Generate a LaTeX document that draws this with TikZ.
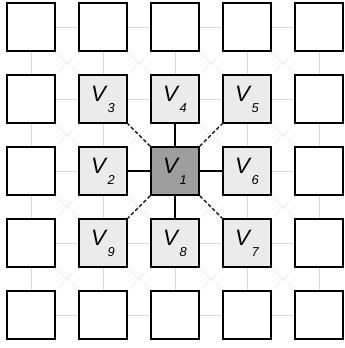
\documentclass[tikz,border=0pt]{standalone}
\usepackage{fontspec}
\setsansfont{Liberation Sans}
\usepackage{tikz}
\usetikzlibrary{positioning, backgrounds}
\tikzset{
  cell/.style  = {draw, line width=1.5pt, minimum size=1.44cm, inner sep=0pt,
                  fill=white, font=\sffamily\itshape\fontsize{19}{19}\selectfont},
  near/.style  = {cell, fill=black!8},
  core/.style  = {cell, fill=black!38},
  mesh/.style  = {black!15, line width=0.8pt},
  diag/.style  = {black!15, line width=0.8pt, dotted},
  link/.style  = {black, line width=1pt},
  dlink/.style = {black, line width=1pt, densely dashed},
}
\newcommand{\vlab}[1]{V\kern1.5pt\raisebox{-0.95ex}{\fontsize{11}{11}\selectfont #1}}

\begin{document}
\begin{tikzpicture}[x=0.03cm, y=-0.03cm]
    \useasboundingbox (0,0) rectangle (344,348);

    % grid of cells
    \foreach \r in {0,...,4}
      \foreach \c in {0,...,4}
        \node[cell] (b\r\c) at (31+72*\c, 27+72*\r) {};

    % labelled cells around the centre
    \node[near] (b11) at (b11) {\vlab{3}};
    \node[near] (b12) at (b12) {\vlab{4}};
    \node[near] (b13) at (b13) {\vlab{5}};
    \node[near] (b21) at (b21) {\vlab{2}};
    \node[core] (b22) at (b22) {\vlab{1}};
    \node[near] (b23) at (b23) {\vlab{6}};
    \node[near] (b31) at (b31) {\vlab{9}};
    \node[near] (b32) at (b32) {\vlab{8}};
    \node[near] (b33) at (b33) {\vlab{7}};

    % background mesh
    \begin{scope}[on background layer]
      \foreach \r in {0,...,4}
        \foreach \c/\n in {0/1,1/2,2/3,3/4} {
          \draw[mesh] (b\r\c.east) -- (b\r\n.west);
          \draw[mesh] (b\c\r.south) -- (b\n\r.north);
        }
      \foreach \r/\s in {0/1,1/2,2/3,3/4}
        \foreach \c/\n in {0/1,1/2,2/3,3/4} {
          \draw[diag] (b\r\c.south east) -- (b\s\n.north west);
          \draw[diag] (b\r\n.south west) -- (b\s\c.north east);
        }
    \end{scope}

    % links of the centre cell
    \draw[link] (b22.north) -- (b12.south);
    \draw[link] (b22.south) -- (b32.north);
    \draw[link] (b22.west) -- (b21.east);
    \draw[link] (b22.east) -- (b23.west);
    \draw[dlink] (b22.north west) -- (b11.south east);
    \draw[dlink] (b22.north east) -- (b13.south west);
    \draw[dlink] (b22.south west) -- (b31.north east);
    \draw[dlink] (b22.south east) -- (b33.north west);
\end{tikzpicture}
\end{document}
